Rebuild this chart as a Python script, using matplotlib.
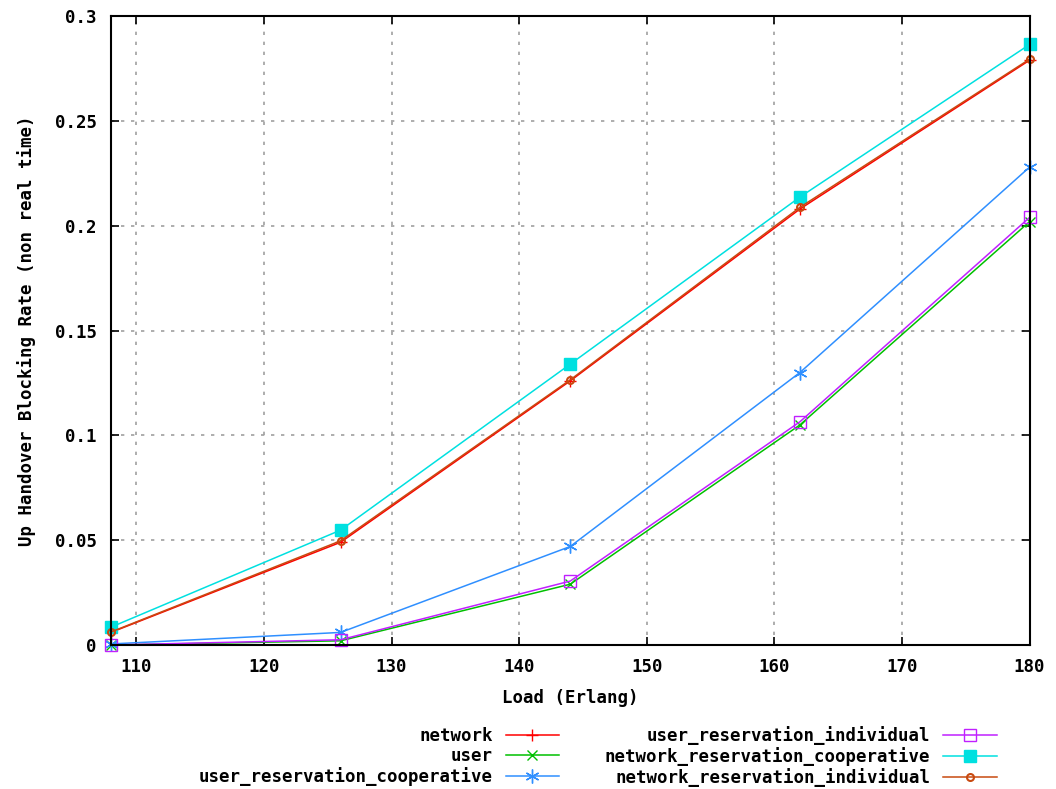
import matplotlib
matplotlib.use("Agg")
import matplotlib.pyplot as plt

load = [108, 126, 144, 162, 180]
network = [0.006, 0.049, 0.126, 0.208, 0.279]
user = [0.0, 0.002, 0.029, 0.105, 0.202]
user_res_coop = [0.0005, 0.006, 0.047, 0.130, 0.228]
user_res_ind = [0.0, 0.0025, 0.0305, 0.1065, 0.204]
net_res_coop = [0.0085, 0.0548, 0.134, 0.2137, 0.2865]
net_res_ind = [0.0062, 0.0497, 0.1265, 0.2088, 0.2795]

labels = ["network", "user", "user_reservation_cooperative",
          "user_reservation_individual", "network_reservation_cooperative",
          "network_reservation_individual"]
xticks = [110, 120, 130, 140, 150, 160, 170, 180]
yticks = [0, 0.05, 0.1, 0.15, 0.2, 0.25, 0.3]
yticklabels = ["0", "0.05", "0.1", "0.15", "0.2", "0.25", "0.3"]

plt.rcParams['font.family'] = ['DejaVu Sans Mono']
plt.rcParams['font.weight'] = 'bold'
fs = 12.5

fig = plt.figure(figsize=(10.56, 7.89), dpi=100)
ax = fig.add_axes([0.105, 0.1825, 0.87, 0.797])

styles = [
    dict(color="#ff0000", marker="+", ms=9, mfc="none"),
    dict(color="#00c000", marker="x", ms=7, mfc="none"),
    dict(color="#2f8fff", marker=(6, 2, 0), ms=10, mfc="none"),
    dict(color="#c020ff", marker="s", ms=8, mfc="none"),
    dict(color="#00e0e0", marker="s", ms=8),
    dict(color="#c84a10", marker="o", ms=5, mfc="none", mew=1.5),
]
series = [network, user, user_res_coop, user_res_ind, net_res_coop, net_res_ind]
handles = []
for i in range(6):
    st = styles[i]
    h, = ax.plot(load, series[i], lw=1.1, label=labels[i], clip_on=False, **st)
    handles.append(h)

ax.set_xlim(108, 180)
ax.set_ylim(0, 0.3)
ax.set_xticks(xticks)
ax.set_yticks(yticks)
ax.set_yticklabels(yticklabels)
ax.tick_params(direction="in", top=True, right=True, length=6, width=1.2,
               labelsize=fs)
ax.tick_params(axis="x", pad=9)
ax.tick_params(axis="y", pad=10)
for lab in ax.get_xticklabels() + ax.get_yticklabels():
    lab.set_fontweight("bold")
ax.grid(True, color="#a0a0a0", linestyle=(0, (2, 4)), linewidth=1.2)
for s in ax.spines.values():
    s.set_linewidth(1.5)
ax.set_xlabel("Load (Erlang)", fontsize=fs, fontweight="bold", labelpad=10)
ax.set_ylabel("Up Handover Blocking Rate (non real time)", fontsize=fs,
              fontweight="bold", labelpad=14)

leg = fig.legend(handles=handles, labels=labels, ncol=2, loc="upper right",
                 bbox_to_anchor=(0.944, 0.08), frameon=False, markerfirst=False,
                 handlelength=3.1, handletextpad=0.75, borderpad=0,
                 borderaxespad=0, columnspacing=2.6, labelspacing=0.12,
                 prop=dict(family="DejaVu Sans Mono", weight="bold", size=fs))

fig.savefig("out.png", dpi=100)
